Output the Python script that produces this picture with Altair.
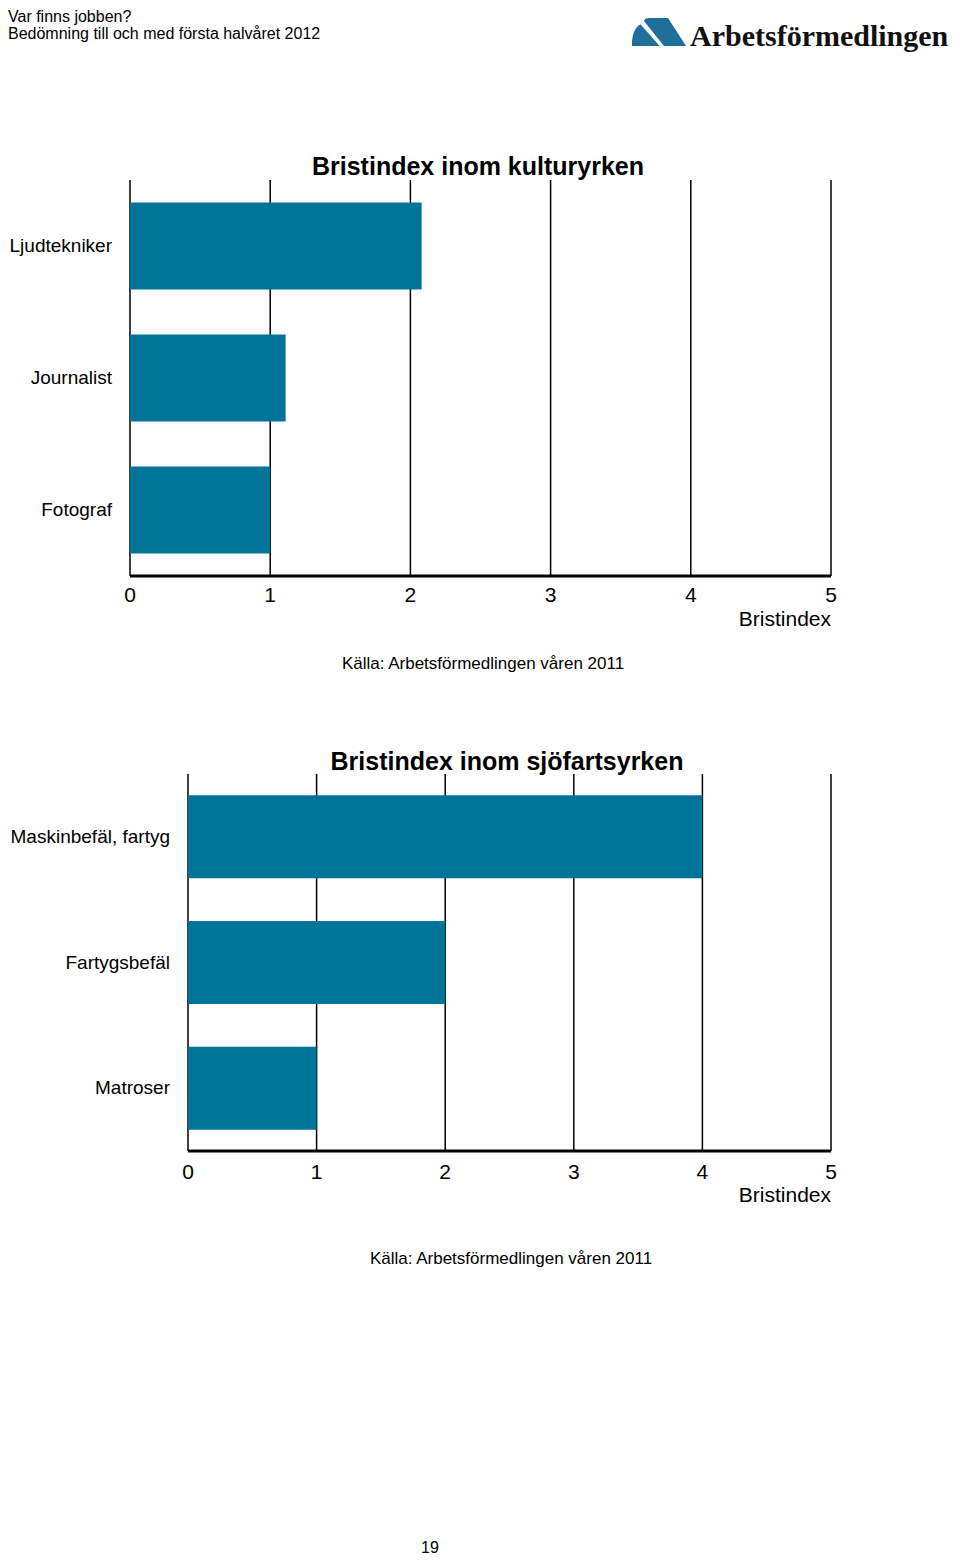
import altair as alt
import pandas as pd

# ---------------- data ----------------
header_lines = ["Var finns jobben?", "Bedömning till och med första halvåret 2012"]
logo_text = ["Arbetsförmedlingen"]
page_number = ["19"]

kultur_title = ["Bristindex inom kulturyrken"]
kultur_jobs = ["Ljudtekniker", "Journalist", "Fotograf"]
kultur_values = [2.08, 1.11, 1.0]

sjo_title = ["Bristindex inom sjöfartsyrken"]
sjo_jobs = ["Maskinbefäl, fartyg", "Fartygsbefäl", "Matroser"]
sjo_values = [4.0, 2.0, 1.0]

x_ticks = [0, 1, 2, 3, 4, 5]
x_tick_labels = ["0", "1", "2", "3", "4", "5"]
x_title = ["Bristindex"]
source_note = ["Källa: Arbetsförmedlingen våren 2011"]

# ---------------- style ----------------
BAR = "#007398"
LOGO = "#1f6f9c"
FONT = "Liberation Sans"


def text_layer(txt, x, y, size, align="center", baseline="middle", weight="normal",
               font=FONT, color="black"):
    return alt.Chart(pd.DataFrame({"s": txt})).mark_text(
        font=font, fontSize=size, align=align, baseline=baseline,
        fontWeight=weight, color=color
    ).encode(x=alt.value(x), y=alt.value(y), text="s:N")


def panel(title, jobs, values, x_range, y_range, label_x, title_xy,
          tick_y, xtitle_y, source_xy):
    xs = alt.Scale(domain=[x_ticks[0], x_ticks[-1]], range=x_range, nice=False, zero=True)
    ys = alt.Scale(domain=jobs, range=y_range, paddingInner=0.34, paddingOuter=0.17)
    df = pd.DataFrame({"job": jobs, "value": values})
    ticks = pd.DataFrame({"t": x_ticks, "label": x_tick_labels})
    ends = pd.DataFrame({"a": [x_ticks[0]], "b": [x_ticks[-1]]})

    grid = alt.Chart(ticks).mark_rule(color="black", strokeWidth=1.5).encode(
        x=alt.X("t:Q", scale=xs, axis=None),
        y=alt.value(y_range[0]), y2=alt.value(y_range[1]))
    bars = alt.Chart(df).mark_bar(color=BAR).encode(
        x=alt.X("value:Q", scale=xs, axis=None),
        y=alt.Y("job:N", scale=ys, axis=None))
    base = alt.Chart(ends).mark_rule(color="black", strokeWidth=3).encode(
        x=alt.X("a:Q", scale=xs, axis=None), x2="b:Q",
        y=alt.value(y_range[1]))
    tick_lbl = alt.Chart(ticks).mark_text(font=FONT, fontSize=21, baseline="middle").encode(
        x=alt.X("t:Q", scale=xs, axis=None), y=alt.value(tick_y), text="label:N")
    ylbl = alt.Chart(df).mark_text(font=FONT, fontSize=19, align="right",
                                   baseline="middle").encode(
        y=alt.Y("job:N", scale=ys, axis=None), x=alt.value(label_x), text="job:N")
    ttl = text_layer(title, title_xy[0], title_xy[1], 25, weight="bold")
    xt = text_layer(x_title, x_range[1], xtitle_y, 21, align="right")
    src = text_layer(source_note, source_xy[0], source_xy[1], 17)
    return alt.layer(grid, bars, base, tick_lbl, ylbl, ttl, xt, src)


c1 = panel(kultur_title, kultur_jobs, kultur_values, [122, 823], [172, 568], 104,
           (470, 159), 588, 612, (475, 656))
c2 = panel(sjo_title, sjo_jobs, sjo_values, [180, 823], [766, 1143], 162,
           (499, 754), 1165, 1188, (503, 1251))

logo_path = ("M -0.929 0.5 C -0.95 0.1 -0.8 -0.22 -0.62 -0.27 L 0.06 0.5 Z "
             "M -0.5 -0.393 Q -0.464 -0.5 -0.321 -0.5 L 0.357 -0.5 L 1 0.5 L 0.214 0.5 Z")
logo_shape = alt.Chart(pd.DataFrame({"s": logo_text})).mark_point(
    shape=logo_path, filled=True, size=3136, color=LOGO, opacity=1, strokeWidth=0
).encode(x=alt.value(650), y=alt.value(24))

h1 = text_layer(header_lines[:1], 0, 9, 16, align="left")
h2 = text_layer(header_lines[1:], 0, 26, 16, align="left")
logo_t = text_layer(logo_text, 682, 38, 30, align="left", baseline="alphabetic",
                    weight="bold", font="Liberation Serif", color="#111111")
pg = text_layer(page_number, 422, 1548, 16, baseline="bottom")

chart = alt.layer(h1, h2, logo_shape, logo_t, c1, c2, pg).resolve_scale(
    x="independent", y="independent"
).properties(
    width=944, height=1548, padding=0,
    autosize=alt.AutoSizeParams(type="none")
).configure_view(stroke=None)

chart.save("out.html", embed_options={"renderer": "svg", "actions": False})
